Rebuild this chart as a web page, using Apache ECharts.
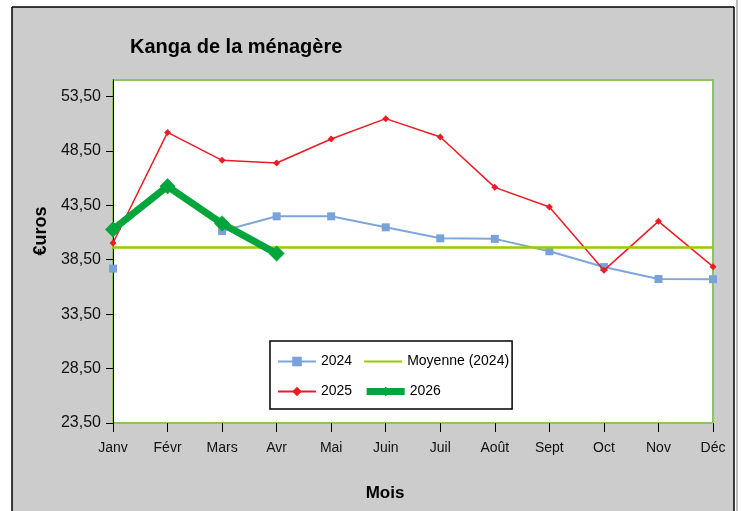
<!DOCTYPE html>
<html>
<head>
<meta charset="utf-8">
<script src="https://cdn.jsdelivr.net/npm/echarts@6/dist/echarts.min.js"></script>
<style>
  html, body { margin: 0; padding: 0; background: #fff; }
  #chart { width: 741px; height: 511px; }
</style>
</head>
<body>
<div id="chart"></div>
<script>
// mois (axe des x)
const mois = ["Janv", "Févr", "Mars", "Avr", "Mai", "Juin", "Juil", "Août", "Sept", "Oct", "Nov", "Déc"];
// valeurs (euros)
const serie2024 = [37.68, null, 41.13, 42.48, 42.48, 41.47, 40.46, 40.41, 39.27, 37.82, 36.72, 36.70];
const serie2025 = [40.03, 50.19, 47.62, 47.38, 49.58, 51.45, 49.76, 45.14, 43.33, 37.52, 42.02, 37.86];
const serie2026 = [41.26, 45.24, 41.81, 39.06];
const moyenne2024 = [39.65];
// graduations de l'axe des y
const yTicks = [23.5, 28.5, 33.5, 38.5, 43.5, 48.5, 53.5];

const fontFamily = "'Liberation Sans', Arial, sans-serif";

let myChart = echarts.init(document.getElementById("chart"));

let option = {
  backgroundColor: "#cccccc",
  animation: false,
  title: {
    text: "Kanga de la ménagère",
    left: 130,
    top: 37,
    padding: 0,
    textStyle: { fontFamily: fontFamily, fontSize: 20, fontWeight: "bold", color: "#000" }
  },
  graphic: [
    // marges blanches autour du cadre
    { type: "rect", shape: { x: 0, y: 0, width: 12, height: 511 }, style: { fill: "#fff" } },
    { type: "rect", shape: { x: 0, y: 0, width: 741, height: 7 }, style: { fill: "#fff" } },
    { type: "rect", shape: { x: 734, y: 0, width: 7, height: 511 }, style: { fill: "#fff" } },
    // cadre noir
    { type: "line", shape: { x1: 12, y1: 7, x2: 12, y2: 511 }, style: { stroke: "#000", lineWidth: 1.5 } },
    { type: "line", shape: { x1: 12, y1: 7, x2: 734, y2: 7 }, style: { stroke: "#000", lineWidth: 1.5 } },
    { type: "line", shape: { x1: 734, y1: 7, x2: 734, y2: 511 }, style: { stroke: "#000", lineWidth: 1.5 } },
    { type: "line", shape: { x1: 737, y1: 0, x2: 737, y2: 511 }, style: { stroke: "#777", lineWidth: 1 } },
    {
      type: "text",
      x: 41,
      y: 231,
      rotation: Math.PI / 2,
      style: {
        text: "€uros",
        fontFamily: fontFamily,
        fontSize: 18,
        fontWeight: "bold",
        fill: "#000",
        align: "center",
        verticalAlign: "middle"
      }
    },
    {
      type: "text",
      x: 385,
      y: 493,
      style: {
        text: "Mois",
        fontFamily: fontFamily,
        fontSize: 17,
        fontWeight: "bold",
        fill: "#000",
        align: "center",
        verticalAlign: "middle"
      }
    }
  ],
  grid: {
    left: 113,
    right: 28,
    top: 80,
    bottom: 88,
    show: true,
    backgroundColor: "#fff",
    borderColor: "#8cc65a",
    borderWidth: 2
  },
  legend: {
    data: [
      "2024",
      { name: "Moyenne (2024)", itemStyle: { opacity: 0 } },
      "2025",
      { name: "2026", lineStyle: { width: 7 } }
    ],
    left: 270,
    top: 341,
    width: 238,
    itemWidth: 38,
    itemHeight: 12,
    itemGap: 11,
    padding: [11, 3, 8, 7],
    backgroundColor: "#fff",
    borderColor: "#000",
    borderWidth: 1.5,
    textStyle: { fontFamily: fontFamily, fontSize: 14, color: "#000", lineHeight: 19 }
  },
  xAxis: {
    type: "category",
    data: mois,
    boundaryGap: false,
    axisLine: { show: false },
    axisTick: { show: true, length: 9, alignWithLabel: true, lineStyle: { color: "#000" } },
    axisLabel: { margin: 18, fontFamily: fontFamily, fontSize: 14, color: "#111" },
    splitLine: { show: false }
  },
  yAxis: {
    type: "value",
    min: 23.5,
    max: 55,
    interval: 5,
    axisLine: { show: true, lineStyle: { color: "#000", width: 1 } },
    axisTick: { show: true, length: 7, lineStyle: { color: "#000" }, customValues: yTicks },
    axisLabel: {
      margin: 12,
      fontFamily: fontFamily,
      fontSize: 16,
      color: "#111",
      customValues: yTicks,
      formatter: function(v) {
        return v > 54 ? "" : v.toFixed(2).replace(".", ",");
      }
    },
    splitLine: { show: false }
  },
  series: [
    {
      name: "2024",
      type: "line",
      data: serie2024,
      connectNulls: false,
      symbol: "rect",
      symbolSize: 8,
      showAllSymbol: true,
      color: "#78a2d8",
      lineStyle: { width: 2, color: "#7ea6dc" },
      itemStyle: { color: "#78a2d8" },
      z: 2
    },
    {
      name: "Moyenne (2024)",
      type: "line",
      data: [],
      symbol: "none",
      color: "#99cc00",
      lineStyle: { width: 2, color: "#99cc00" },
      markLine: {
        silent: true,
        symbol: "none",
        label: { show: false },
        lineStyle: { type: "solid", width: 2.5, color: "#99cc00" },
        data: [{ yAxis: moyenne2024[0] }]
      },
      z: 3
    },
    {
      name: "2025",
      type: "line",
      data: serie2025,
      symbol: "diamond",
      symbolSize: 7,
      color: "#ed1c24",
      lineStyle: { width: 1.5, color: "#ed1c24" },
      itemStyle: { color: "#ed1c24" },
      z: 4
    },
    {
      name: "2026",
      type: "line",
      data: serie2026,
      symbol: "diamond",
      symbolSize: 16,
      color: "#00a53c",
      lineStyle: { width: 7, color: "#00a53c" },
      itemStyle: { color: "#00a53c" },
      z: 5
    }
  ]
};
myChart.setOption(option);
</script>
</body>
</html>
